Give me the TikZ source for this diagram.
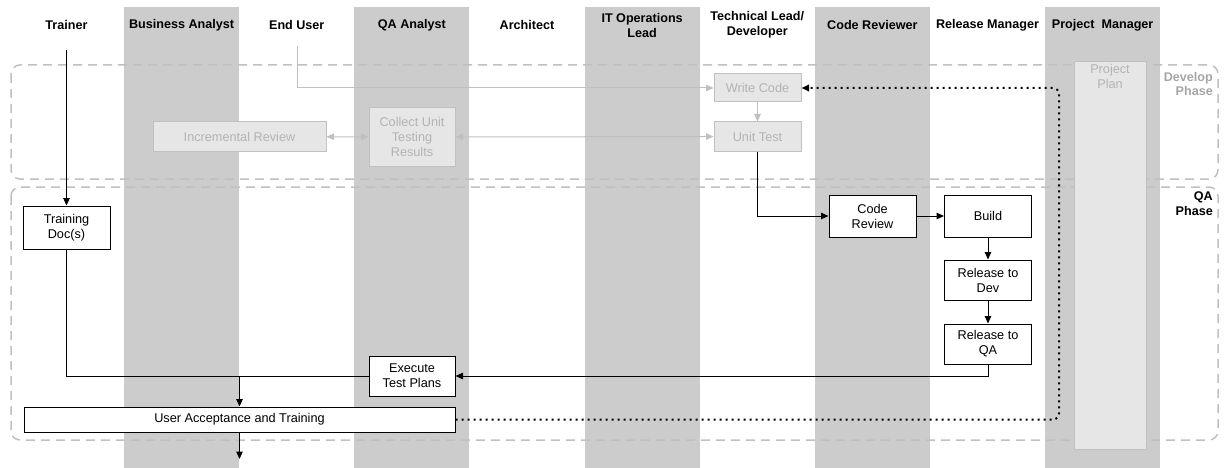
\documentclass[tikz,border=0pt]{standalone}
\usepackage{fontspec}
\setmainfont{Liberation Sans}
\usetikzlibrary{arrows.meta}
\definecolor{lane}{HTML}{CCCCCC}
\definecolor{faint}{HTML}{E6E6E6}
\definecolor{faintline}{HTML}{C0C0C0}
\definecolor{fainttext}{HTML}{B3B3B3}
\definecolor{devtext}{HTML}{A6A6A6}
\tikzset{
  task/.style={draw, fill=white, line width=1pt, align=center, minimum width=87, inner sep=0pt, font=\fontsize{12.7}{15}\selectfont},
  oldtask/.style={task, draw=faintline, fill=faint, text=fainttext},
  flow/.style={->, line width=1pt},
  oldflow/.style={->, line width=1pt, draw=faintline},
  phase/.style={draw=faintline, dash pattern=on 9pt off 6pt, line width=1.5pt, rounded corners=9pt},
  lanehead/.style={font=\bfseries\fontsize{12.6}{15}\selectfont, align=center},
  phasehead/.style={anchor=north east, align=right, inner sep=2pt, font=\bfseries\fontsize{12.6}{14.5}\selectfont}
}
\begin{document}
\begin{tikzpicture}[x=1pt, y=-1pt, >={Triangle[length=7.5pt,width=6.5pt]}]
\useasboundingbox (0,0) rectangle (1225,468);
\foreach \i in {1,3,5,7,9}
  \fill[lane] (8.9+115.125*\i,7) rectangle (124+115.125*\i,468);
\foreach \i/\lbl in {0/Trainer, 1/Business Analyst, 2/End User, 3/QA Analyst, 4/Architect, 5/{IT Operations\\Lead}, 6/{Technical Lead/\\Developer}, 7/Code Reviewer, 8/Release Manager, 9/Project~ Manager}
  \node[lanehead] (head\i) at (66.5+115.125*\i,25) {\lbl};

\draw[phase] (11,65) rectangle (1218,179);
\draw[phase] (11,187) rectangle (1218,440);
\node[phasehead, text=devtext] (devphase) at (1215,70) {Develop\\Phase};
\node[phasehead] (qaphase) at (1215,190) {QA\\Phase};

\node[draw=faintline, fill=faint, line width=1pt, minimum width=72, minimum height=387, inner sep=0pt] (plan) at (1110,255.5) {};
\node[anchor=north, text=fainttext, align=center, inner sep=3pt, font=\fontsize{12.7}{14.5}\selectfont] (plantext) at (plan.north) {Project\\Plan};

\node[oldtask, minimum height=28] (write) at (757.5,88) {Write Code};
\node[oldtask, minimum height=29] (unit) at (757.5,136.5) {Unit Test};
\node[oldtask, minimum width=173, minimum height=29] (incr) at (239.5,136.5) {Incremental Review};
\node[oldtask, minimum width=86, minimum height=58] (collect) at (412,137) {Collect Unit\\Testing\\Results};

\node[task, minimum height=43] (trdoc) at (66.5,227.5) {Training\\Doc(s)};
\node[task, minimum height=42] (code) at (872.5,216) {Code\\Review};
\node[task, minimum height=42] (build) at (988,216) {Build};
\node[task, minimum height=40] (reldev) at (988,280) {Release to\\Dev};
\node[task, minimum height=40] (relqa) at (988,344) {Release to\\QA};
\node[task, minimum width=86, minimum height=40] (exec) at (412,376) {Execute\\Test Plans};
\node[task, minimum width=431, minimum height=25] (uat) at (239.5,419.5) {User Acceptance and Training};

\coordinate (trtop) at (66.5,50);
\coordinate (eutop) at (297,46);
\coordinate (join) at (uat.north |- exec.west);
\coordinate (out) at (239.5,459);
\coordinate (back) at (1059,88);

\draw[flow] (trtop) -- (trdoc);
\draw[oldflow] (eutop) |- (write);
\draw[oldflow] (write) -- (unit);
\draw[oldflow, <->] (incr) -- (collect);
\draw[oldflow, <->] (collect) -- (unit);
\draw[flow] (unit) |- (code);
\draw[flow] (code) -- (build);
\draw[flow] (build) -- (reldev);
\draw[flow] (reldev) -- (relqa);
\draw[flow] (relqa) |- (exec);
\draw[line width=1pt] (trdoc) |- (exec);
\draw[flow] (join) -- (uat);
\draw[flow] (uat) -- (out);
\draw[flow, line width=2pt, dash pattern=on 2pt off 4pt, rounded corners=6pt] (uat) -| (back) -- (write);
\end{tikzpicture}
\end{document}
